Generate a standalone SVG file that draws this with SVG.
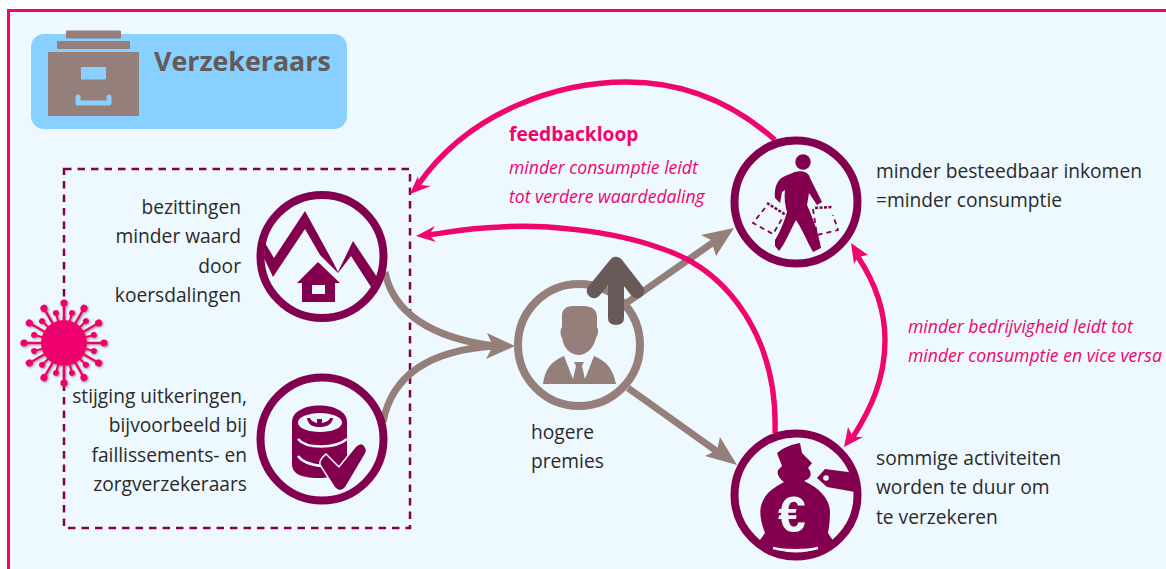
<svg xmlns="http://www.w3.org/2000/svg" width="1166" height="569" viewBox="0 0 1166 569">
<style>
text{font-family:"Open Sans","Noto Sans","DejaVu Sans",sans-serif;font-size:19.200px;fill:#2a2a2a}
.r{text-anchor:end}
.p{fill:#f0046e;font-style:italic;font-size:17.600px}
.ring{fill:#eef8ff;stroke:#82004e;stroke-width:8}
.m{fill:#82004e}
.bl{fill:none;stroke:#947f7a;stroke-width:7}
.pl{fill:none;stroke:#f0046e;stroke-width:5.400}
.pa{fill:#f0046e}
.ba{fill:#947f7a}
</style>
<defs>
<g id="spike"><path d="M0-22V-38" stroke="#f0046e" stroke-width="2.500"/><circle cy="-40" r="3.600" fill="#f0046e"/></g>
<g id="spikes"><path d="M0-22V-30" stroke="#f0046e" stroke-width="2.200"/><circle cy="-31" r="3" fill="#f0046e"/></g>
<filter id="sh" x="-20%" y="-20%" width="140%" height="140%"><feDropShadow dx="1" dy="1" stdDeviation="1" flood-color="#555" flood-opacity=".6"/></filter>
</defs>
<rect width="1166" height="569" fill="#fff"/>
<rect x="8.500" y="10.500" width="1170" height="570" fill="#eef8ff" stroke="#f0046e" stroke-width="3"/>
<g id="header">
<rect x="31" y="34" width="316" height="95" rx="13" fill="#88d0ff"/>
<rect x="48" y="52" width="91" height="64" rx="1" fill="#947f7a"/>
<rect x="57" y="41" width="73" height="8" rx="1" fill="#947f7a"/>
<rect x="66" y="30.500" width="55" height="8" rx="1" fill="#947f7a"/>
<rect x="81" y="67" width="25" height="12.500" fill="#88d0ff"/>
<path d="M78 97v6h31v-6" fill="none" stroke="#88d0ff" stroke-width="5" stroke-linecap="round" stroke-linejoin="round"/>
<text x="154" y="71" style="font-size:26.800px;font-weight:700;fill:#655a57">Verzekeraars</text>
</g>
<g id="boundary"><rect x="64" y="169" width="346" height="359" fill="none" stroke="#82004e" stroke-width="2.500" stroke-dasharray="7.500 6"/></g>
<g id="connectors">
<path class="bl" d="M385 272C393 312 430 338 495 346"/>
<path class="bl" d="M383 422C392 375 430 350 495 346"/>
<path class="ba" d="M515 346L487 333L493 346L486 359Z"/>
<path class="bl" d="M625 304L718 239"/>
<path class="ba" d="M734 228L701 235L711 240L716 256Z"/>
<path class="bl" d="M628 388L722 455"/>
<path class="ba" d="M737 465L720 437L717 450L705 456Z"/>
<path class="pl" d="M775 140C730 100 680 82 627 82C560 82 470 110 418 185"/>
<path class="pa" d="M410 194L418 176L419 185L431 186Z"/>
<path class="pl" d="M775 433C778 340 730 270 660 248C610 230 540 224 500 227C470 228 450 232 428 235"/>
<path class="pa" d="M416 236L435 226L429 235L436 242Z"/>
<path class="pl" d="M858 257C880 290 885 320 885 340C885 380 870 410 853 437"/>
<path class="pa" d="M851 243L868 255L858 257L854 264Z"/>
<path class="pa" d="M844 447L848 427L853 437L863 437Z"/>
</g>
<g id="virus" filter="url(#sh)">
<circle cx="64" cy="343" r="23" fill="#f0046e"/>
<g transform="translate(64 343)">
<use href="#spike"/><use href="#spike" transform="rotate(30)"/><use href="#spike" transform="rotate(60)"/><use href="#spike" transform="rotate(90)"/><use href="#spike" transform="rotate(120)"/><use href="#spike" transform="rotate(150)"/><use href="#spike" transform="rotate(180)"/><use href="#spike" transform="rotate(210)"/><use href="#spike" transform="rotate(240)"/><use href="#spike" transform="rotate(270)"/><use href="#spike" transform="rotate(300)"/><use href="#spike" transform="rotate(330)"/>
<use href="#spikes" transform="rotate(15)"/><use href="#spikes" transform="rotate(45)"/><use href="#spikes" transform="rotate(75)"/><use href="#spikes" transform="rotate(105)"/><use href="#spikes" transform="rotate(135)"/><use href="#spikes" transform="rotate(165)"/><use href="#spikes" transform="rotate(195)"/><use href="#spikes" transform="rotate(225)"/><use href="#spikes" transform="rotate(255)"/><use href="#spikes" transform="rotate(285)"/><use href="#spikes" transform="rotate(315)"/><use href="#spikes" transform="rotate(345)"/>
</g>
</g>
<g id="node-bezittingen">
<circle class="ring" cx="322" cy="256.500" r="61.500"/>
<path class="m" d="M265 243L274 258L305 211L333 262L338 272L353 241L377 277L371 287L351 256L338 273L320 255L305 229L273 277L264 258Z"/>
<path class="m" d="M297 283L318 262L340 283H335V302H302V283Z"/>
<rect x="312" y="285" width="13" height="9" fill="#eef8ff"/>
<text class="r" x="241" y="214">bezittingen</text><text class="r" x="241" y="243">minder waard</text><text class="r" x="241" y="273">door</text><text class="r" x="241" y="302">koersdalingen</text>
</g>
<g id="node-uitkeringen">
<circle class="ring" cx="322" cy="439" r="61.500"/>
<path class="m" d="M292 422C292 400 347 400 347 422V462C347 476 328 478 318 478C300 478 292 473 292 464Z"/>
<ellipse cx="320" cy="422.500" rx="22" ry="9.500" fill="#eef8ff"/>
<path class="m" d="M307 418L310 418C311 421 314 422 317 423V419H322V423C326 422 329 421 330 418L333 418C332 425 326 427 319.500 427C313 427 308 425 307 418Z"/>
<path d="M298 439C306 449 335 449 347 439M298 456C303 463 312 465 322 466" fill="none" stroke="#eef8ff" stroke-width="2.500"/>
<path d="M326 455L339 468L356 447Q362 441 365 448Q367 450 364 455L345 487Q340 493 335 487L321 465Q319 461 326 455Z" class="m" stroke="#eef8ff" stroke-width="3" paint-order="stroke"/>
<text class="r" x="247" y="403">stijging uitkeringen,</text><text class="r" x="247" y="432">bijvoorbeeld bij</text><text class="r" x="247" y="462">faillissements- en</text><text class="r" x="247" y="491">zorgverzekeraars</text>
</g>
<g id="node-premies">
<circle class="ring" cx="579" cy="345" r="61" style="stroke:#947f7a"/>
<path class="ba" d="M562 314C564 305 572 306 578 306C584 306 596 305 597 316V327C599 330 598 335 596 338C593 350 585 355 579 355C572 355 564 350 562 338C560 335 560 329 562 327Z"/>
<path class="ba" d="M543 384C545 370 550 362 564 356L573 379L576 366L574 362H584L582 366L585 379L594 356C608 362 613 370 616 384Z"/>
<path d="M594 291L616 264L637 291" fill="none" stroke="#665b58" stroke-width="14.500" stroke-linecap="round" stroke-linejoin="round"/>
<path d="M608 270L616 262L624 270V318Q624 325 616 325Q608 325 608 318Z" fill="#665b58"/>
<text x="531" y="439">hogere</text><text x="531" y="468">premies</text>
</g>
<g id="node-inkomen">
<circle class="ring" cx="796" cy="202" r="61.500"/>
<circle class="m" cx="803" cy="162" r="7.700"/>
<path class="m" d="M795 172C802 170 809 172 810 178L822 202L817 205L809 193L807 205C813 218 819 235 821 248L813 252C807 241 802 229 796 220C790 231 785 244 779 251L775 246L775 240C780 232 784 222 787 212C785 205 784 198 785 190L782 192L780 203L775 198C774 188 777 179 785 176Z"/>
<path d="M765 208L753 223L773 234L783 217M813 209L817 235L838 230L833 215" fill="none" stroke="#82004e" stroke-width="1.800" stroke-dasharray="5 4"/>
<path d="M767 203L786 215M815 208L832 207" fill="none" stroke="#82004e" stroke-width="2.500" stroke-dasharray="3 1.500"/>
<text x="876" y="178">minder besteedbaar inkomen</text><text x="876" y="207">=minder consumptie</text>
</g>
<g id="node-duur">
<circle class="ring" cx="796" cy="495" r="61.500"/>
<path class="m" d="M777 453C784 447 793 444 800 443L802 453L812 463L808 468C812 472 811 477 808 479L804 481C820 488 830 500 830 512C830 520 829 528 828 533L836 545C820 552 775 552 757 544L765 533C760 520 759 510 762 503C766 492 775 487 784 482C778 478 776 472 779 469L782 466Z"/>
<path class="m" d="M817 478L825 469L848 472L855 474V492L827 487Z"/>
<circle cx="826" cy="478" r="2.800" fill="#eef8ff"/>
<path d="M773 548C785 551 806 551 818 548" fill="none" stroke="#eef8ff" stroke-width="2.500"/>
<text x="778" y="532" style="font-size:50px;font-weight:700;fill:#eef8ff;font-family:'Liberation Sans',sans-serif">€</text>
<text x="876" y="465">sommige activiteiten</text><text x="876" y="494">worden te duur om</text><text x="876" y="524">te verzekeren</text>
</g>
<g id="labels">
<text x="509" y="141" style="fill:#f0046e;font-weight:700">feedbackloop</text>
<text class="p" x="509" y="174">minder consumptie leidt</text><text class="p" x="509" y="203">tot verdere waardedaling</text>
<text class="p" x="908" y="333">minder bedrijvigheid leidt tot</text><text class="p" x="908" y="362">minder consumptie en vice versa</text>
</g>
</svg>
